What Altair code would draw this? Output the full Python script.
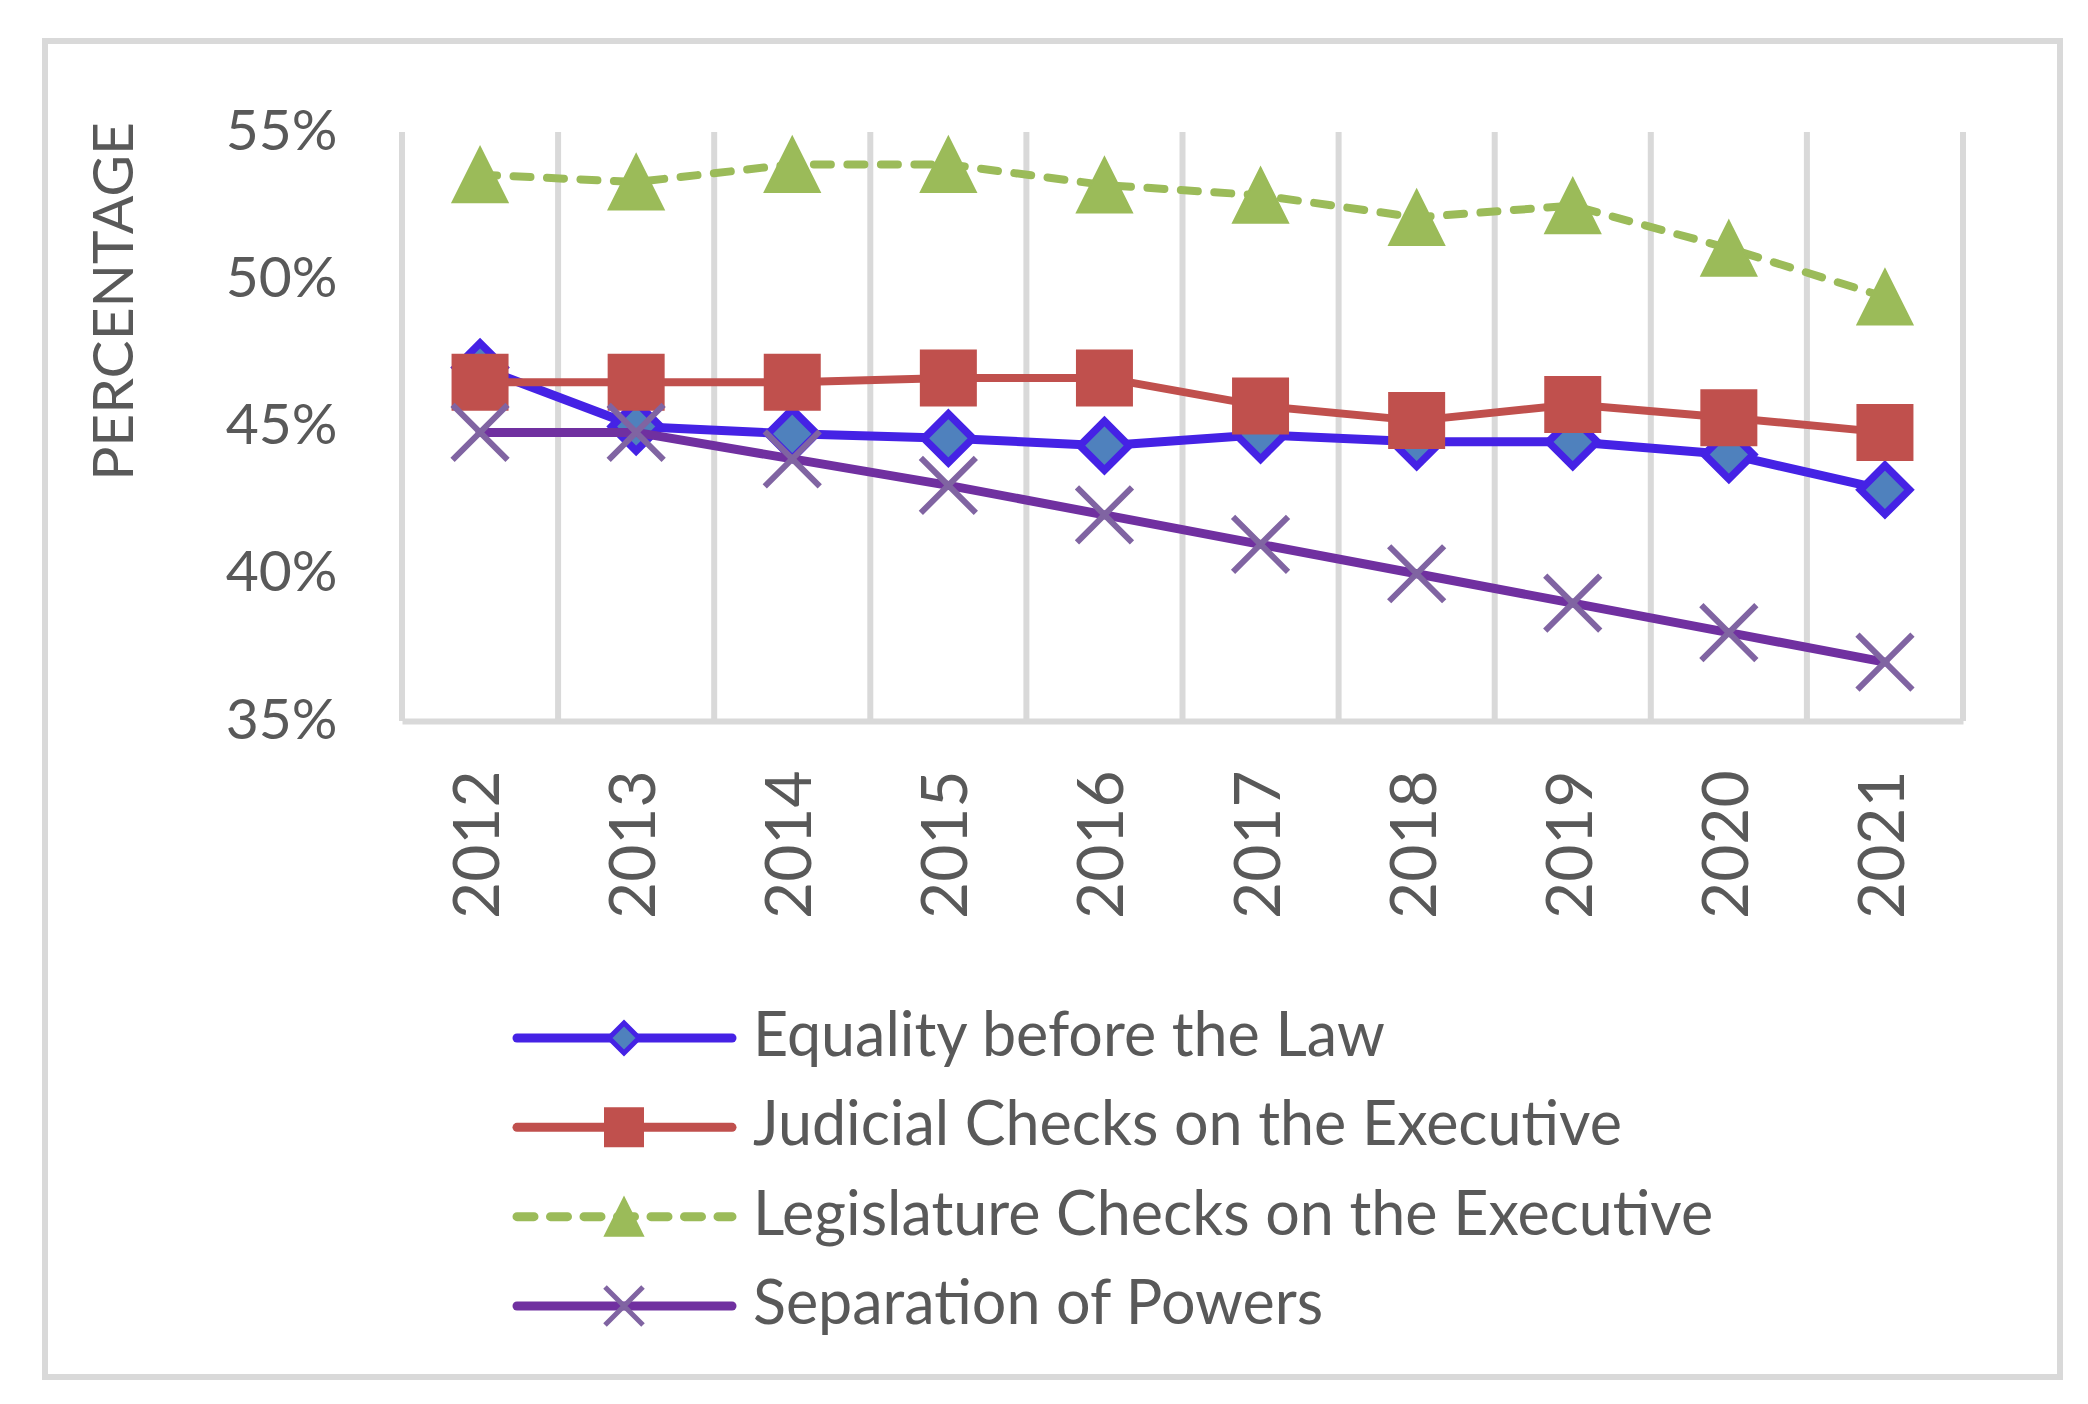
import altair as alt
import pandas as pd

# ---------------- data ----------------
years = [2012, 2013, 2014, 2015, 2016, 2017, 2018, 2019, 2020, 2021]
series_names = [
    "Equality before the Law",
    "Judicial Checks on the Executive",
    "Legislature Checks on the Executive",
    "Separation of Powers",
]
equality = [47.0, 45.0, 44.75, 44.6, 44.35, 44.72, 44.48, 44.48, 44.05, 42.85]
judicial = [46.5, 46.5, 46.5, 46.65, 46.65, 45.7, 45.2, 45.75, 45.3, 44.8]
legislature = [53.55, 53.3, 53.9, 53.9, 53.2, 52.85, 52.1, 52.5, 51.05, 49.4]
separation = [44.8, 44.8, 43.9, 43.0, 42.0, 41.0, 40.0, 39.0, 38.0, 37.0]
y_ticks = [35, 40, 45, 50, 55]

values_by_series = [equality, judicial, legislature, separation]
rows = []
for name, vals in zip(series_names, values_by_series):
    for yr, v in zip(years, vals):
        rows.append({"year": yr, "series": name, "value": v})
df = pd.DataFrame(rows)

# ---------------- styles ----------------
TEXT = "#595959"
GRID = "#D9D9D9"
FONT = "Lato"

TRI = "M0,-1L1,1L-1,1Z"
XMARK = "M-1,-1L1,1M1,-1L-1,1"

styles = {
    series_names[0]: dict(color="#4522E5", lw=9, dash=None, shape="diamond", size=2400,
                          filled=True, fill="#4F81BD", stroke="#4522E5", sw=7.5,
                          lsize=900, lsw=5),
    series_names[1]: dict(color="#C0504D", lw=8, dash=None, shape="square", size=3025,
                          filled=True, fill="#C0504D", stroke="#C0504D", sw=2,
                          lsize=1444, lsw=2),
    series_names[2]: dict(color="#9BBB59", lw=8, dash=[17, 16.5], shape=TRI, size=3025,
                          filled=True, fill="#9BBB59", stroke="#9BBB59", sw=2,
                          lsize=1444, lsw=2),
    series_names[3]: dict(color="#7030A0", lw=9, dash=None, shape=XMARK, size=3025,
                          filled=False, fill=None, stroke="#8064A2", sw=6,
                          lsize=1444, lsw=5),
}

W, H = 2015, 1336
PLOT_X0, PLOT_X1 = 357, 1918
PLOT_Y0, PLOT_Y1 = 91, 680

xscale = alt.Scale(type="band", range=[PLOT_X0, PLOT_X1], paddingInner=0, paddingOuter=0)
xaxis = alt.Axis(
    orient="bottom", offset=-(H - PLOT_Y1), title=None,
    domain=True, domainColor=GRID, domainWidth=6, domainCap="butt",
    ticks=False, grid=False,
    labelAngle=270, labelFont=FONT, labelFontSize=64, labelColor=TEXT,
    labelPadding=49,
)
yscale = alt.Scale(domain=[35, 55], range=[PLOT_Y1, PLOT_Y0], zero=False, nice=False)
yaxis = alt.Axis(
    values=y_ticks, labelExpr="datum.value + '%'",
    orient="left", offset=-PLOT_X0,
    domain=False, ticks=False, grid=False,
    labelFont=FONT, labelFontSize=57, labelColor=TEXT, labelPadding=65,
    title="PERCENTAGE", titleFont=FONT, titleFontSize=57, titleColor=TEXT,
    titleFontWeight="normal", titleAngle=270, titleAlign="center",
    titleBaseline="middle", titleX=70 - PLOT_X0, titleY=260,
)


def X(**kw):
    return alt.X("year:O", scale=xscale, axis=xaxis, **kw)


def Y():
    return alt.Y("value:Q", scale=yscale, axis=yaxis)


# gridlines at category boundaries
grid = alt.Chart(pd.DataFrame({"year": years})).mark_rule(
    color=GRID, strokeWidth=6
).encode(x=X(bandPosition=0), y=alt.datum(55), y2=alt.datum(35))
grid_end = alt.Chart(pd.DataFrame({"year": years[-1:]})).mark_rule(
    color=GRID, strokeWidth=6
).encode(x=X(bandPosition=1), y=alt.datum(55), y2=alt.datum(35))

layers = [grid, grid_end]
for name in series_names:
    st = styles[name]
    base = alt.Chart(df).transform_filter(alt.datum.series == name)
    lkw = dict(color=st["color"], strokeWidth=st["lw"], strokeCap="round", strokeJoin="round")
    if st["dash"]:
        lkw["strokeDash"] = st["dash"]
    line = base.mark_line(**lkw).encode(x=X(), y=Y())
    pkw = dict(shape=st["shape"], size=st["size"], filled=st["filled"], stroke=st["stroke"],
               strokeWidth=st["sw"], opacity=1, strokeJoin="miter")
    if st["fill"]:
        pkw["fill"] = st["fill"]
    pts = base.mark_point(**pkw).encode(x=X(), y=Y())
    layers += [line, pts]

main = alt.layer(*layers)

# legend drawn as marks
legdf = pd.DataFrame({"series": series_names})
ly = alt.Y("series:N", scale=alt.Scale(type="point", domain=series_names,
                                       range=[997, 1265], padding=0), axis=None)
leg_layers = []
for name in series_names:
    st = styles[name]
    b = alt.Chart(legdf).transform_filter(alt.datum.series == name)
    rkw = dict(color=st["color"], strokeWidth=9, strokeCap="round")
    if st["dash"]:
        rkw["strokeDash"] = st["dash"]
    rule = b.mark_rule(**rkw).encode(x=alt.value(472), x2=alt.value(687), y=ly)
    pkw = dict(shape=st["shape"], size=st["lsize"], filled=st["filled"], stroke=st["stroke"],
               strokeWidth=st["lsw"], opacity=1)
    if st["fill"]:
        pkw["fill"] = st["fill"]
    pt = b.mark_point(**pkw).encode(x=alt.value(579), y=ly)
    leg_layers += [rule, pt]
txt = alt.Chart(legdf).mark_text(
    align="left", baseline="middle", font=FONT, fontSize=61, color=TEXT
).encode(x=alt.value(708), y=ly, text="series:N")
leg_layers.append(txt)
legend = alt.layer(*leg_layers)

chart = alt.layer(main, legend).resolve_scale(y="independent").properties(
    width=W, height=H,
    padding={"left": 37, "top": 33, "right": 20, "bottom": 20},
    autosize=alt.AutoSizeParams(type="none"),
    background="white",
).configure_view(stroke=GRID, strokeWidth=6)

chart.save("out.html", embed_options={"renderer": "svg", "actions": False})
